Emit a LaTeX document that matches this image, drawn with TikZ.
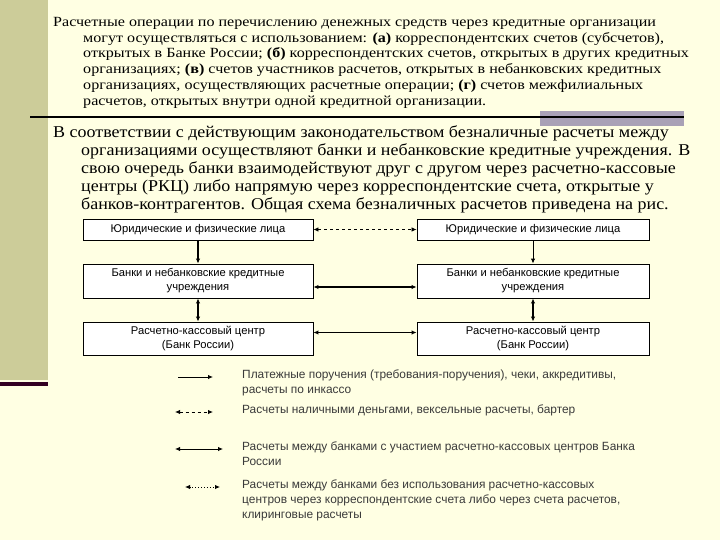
\documentclass[tikz,border=0pt]{standalone}
\usepackage{fontspec}
\setmainfont{Liberation Serif}
\newfontfamily\widefont[FakeStretch=1.15]{Liberation Serif}
\newfontfamily\leadfont[FakeStretch=1.09]{Liberation Serif}
\newfontfamily\boxfont{Liberation Sans}
\usetikzlibrary{positioning, calc, arrows.meta}

\definecolor{slidebg}{HTML}{FFFFE3}
\definecolor{sidebar}{HTML}{CCCC99}
\definecolor{sidebarline}{HTML}{330022}
\definecolor{rulebar}{HTML}{A9A1B6}
\definecolor{legendtext}{HTML}{3A3A3A}

\tikzset{
    orgbox/.style={draw=black, fill=white, line width=0.9pt, inner sep=1pt,
        font=\boxfont\fontsize{11.2}{14}\selectfont, align=center},
    tip/.style={-{Latex[length=5pt,width=4.5pt]}},
    tips/.style={{Latex[length=5pt,width=4.5pt]}-{Latex[length=5pt,width=4.5pt]}},
    legendlabel/.style={anchor=north west, inner sep=0pt, align=left,
        text=legendtext, font=\boxfont\fontsize{11.9}{15}\selectfont}
}

\begin{document}
\begin{tikzpicture}[x=1pt, y=-1pt]
        % Slide background
        \useasboundingbox (0,0) rectangle (720,540);
        \fill[slidebg] (0,0) rectangle (720,540);
        \fill[sidebar] (0,0) rectangle (48,380);
        \fill[sidebarline] (0,382) rectangle (48,386);

        % First paragraph
        \node[anchor=north west, inner sep=0pt, align=left,
              font=\widefont\fontsize{14}{15.8}\selectfont] (para1) at (53,17)
            {Расчетные операции по перечислению денежных средств через кредитные организации\\
             \hspace*{30pt}могут осуществляться с использованием: \textbf{(а)} корреспондентских счетов (субсчетов),\\
             \hspace*{30pt}открытых в Банке России; \textbf{(б)} корреспондентских счетов, открытых в других кредитных\\
             \hspace*{30pt}организациях; \textbf{(в)} счетов участников расчетов, открытых в небанковских кредитных\\
             \hspace*{30pt}организациях, осуществляющих расчетные операции; \textbf{(г)} счетов межфилиальных\\
             \hspace*{30pt}расчетов, открытых внутри одной кредитной организации.};

        % Rule with grey block
        \fill[rulebar] (540,111) rectangle (684,126);
        \draw[line width=2pt] (30,117) -- (684,117);

        % Second paragraph
        \node[anchor=north west, inner sep=0pt, align=left,
              font=\leadfont\fontsize{16.5}{18}\selectfont] (para2) at (53,125)
            {В соответствии с действующим законодательством безналичные расчеты между\\
             \hspace*{28pt}организациями осуществляют банки и небанковские кредитные учреждения. В\\
             \hspace*{28pt}свою очередь банки взаимодействуют друг с другом через расчетно-кассовые\\
             \hspace*{28pt}центры (РКЦ) либо напрямую через корреспондентские счета, открытые у\\
             \hspace*{28pt}банков-контрагентов. Общая схема безналичных расчетов приведена на рис.};

        % Boxes
        \node[orgbox, minimum width=230pt, minimum height=21pt] (l1) at (198,229.5) {Юридические и физические лица};
        \node[orgbox, minimum width=232pt, minimum height=21pt] (r1) at (533,229.5) {Юридические и физические лица};
        \node[orgbox, minimum width=230pt, minimum height=34pt] (l2) at (198,281) {Банки и небанковские кредитные\\учреждения};
        \node[orgbox, minimum width=232pt, minimum height=34pt] (r2) at (533,281) {Банки и небанковские кредитные\\учреждения};
        \node[orgbox, minimum width=230pt, minimum height=33pt] (l3) at (198,338.5) {Расчетно-кассовый центр\\(Банк России)};
        \node[orgbox, minimum width=232pt, minimum height=33pt] (r3) at (533,338.5) {Расчетно-кассовый центр\\(Банк России)};

        % Connections
        \draw[tips, dashed, line width=0.8pt] (l1.east) -- (r1.west);
        \draw[tips, line width=2.4pt] ([yshift=-6pt]l2.east) -- ([yshift=-6pt]r2.west);
        \draw[tips, line width=1.1pt] ([yshift=6pt]l3.east) -- ([yshift=6pt]r3.west);
        \draw[tip, line width=2pt] (l1) -- (l2);
        \draw[tips, line width=2pt] (l2) -- (l3);
        \draw[tip, line width=0.9pt] (r1) -- (r2);
        \draw[tips, line width=1.1pt] (r2) -- (r3);

        % Legend
        \coordinate (a1) at (178,377); \coordinate (b1) at (213,377);
        \coordinate (a2) at (175,412); \coordinate (b2) at (213,412);
        \coordinate (a3) at (175,449); \coordinate (b3) at (223,449);
        \coordinate (a4) at (185,487); \coordinate (b4) at (220,487);
        \draw[tip, line width=0.9pt] (a1) -- (b1);
        \draw[tips, dashed, line width=0.9pt] (a2) -- (b2);
        \draw[tips, line width=0.9pt] (a3) -- (b3);
        \draw[tips, dotted, line width=0.9pt] (a4) -- (b4);

        \node[legendlabel] (leg1) at (242,370) {Платежные поручения (требования-поручения), чеки, аккредитивы,\\расчеты по инкассо};
        \node[legendlabel] (leg2) at (242,405) {Расчеты наличными деньгами, вексельные расчеты, бартер};
        \node[legendlabel] (leg3) at (242,442) {Расчеты между банками с участием расчетно-кассовых центров Банка\\России};
        \node[legendlabel] (leg4) at (242,480) {Расчеты между банками без использования расчетно-кассовых\\центров через корреспондентские счета либо через счета расчетов,\\клиринговые расчеты};
    \end{tikzpicture}
\end{document}
